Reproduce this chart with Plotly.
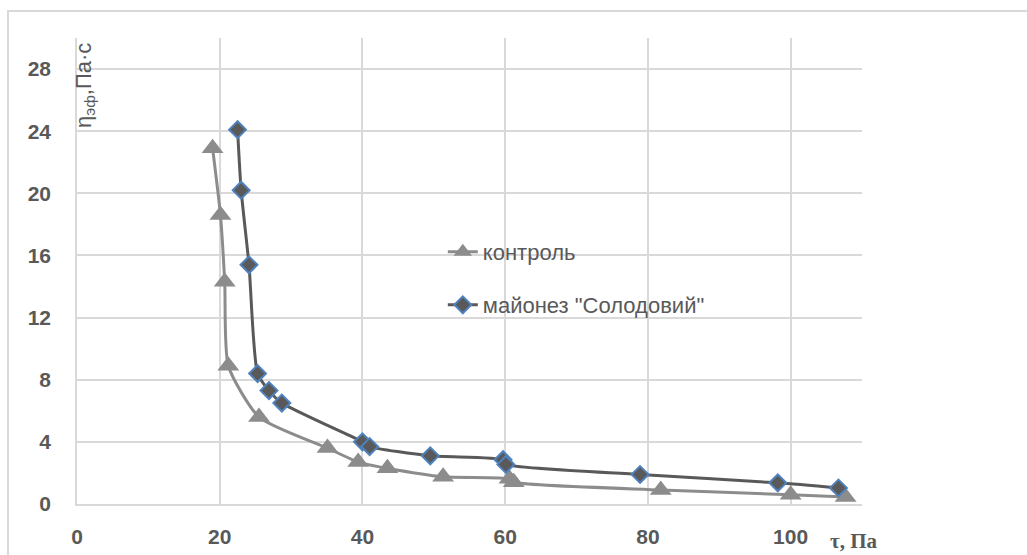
import plotly.graph_objects as go

# Data
control_x = [19.0, 20.1, 20.7, 21.2, 25.5, 35.1, 39.4, 43.5, 51.3, 60.6, 61.2, 81.8, 100.0, 107.7]
control_y = [22.9, 18.6, 14.3, 8.9, 5.6, 3.6, 2.7, 2.3, 1.75, 1.62, 1.4, 0.9, 0.6, 0.45]

mayo_x = [22.5, 23.0, 24.1, 25.3, 26.9, 28.7, 40.0, 41.0, 49.5, 59.7, 60.1, 78.9, 98.2, 106.7]
mayo_y = [24.1, 20.2, 15.4, 8.4, 7.3, 6.5, 4.0, 3.7, 3.1, 2.85, 2.55, 1.9, 1.36, 1.03]

x_ticks = [0, 20, 40, 60, 80, 100]
y_ticks = [0, 4, 8, 12, 16, 20, 24, 28]

name_control = "контроль"
name_mayo = 'майонез "Солодовий"'

GRID = "#d9d9d9"
TXT = "#595959"

fig = go.Figure()
fig.add_trace(go.Scatter(
    x=control_x, y=control_y, name=name_control, mode="lines+markers",
    line=dict(color="#8c8c8c", width=3, shape="spline", smoothing=0.6),
    marker=dict(symbol="triangle-up", size=19, color="#8c8c8c"),
    legend="legend",
))
fig.add_trace(go.Scatter(
    x=mayo_x, y=mayo_y, name=name_mayo, mode="lines+markers",
    line=dict(color="#595959", width=3, shape="spline", smoothing=0.6),
    marker=dict(symbol="diamond", size=13, color="#595959",
                line=dict(color="#4f81bd", width=2)),
    legend="legend2",
))

fig.update_layout(
    width=1027, height=555,
    margin=dict(l=77, r=165, t=38, b=51, autoexpand=False),
    paper_bgcolor="white", plot_bgcolor="white",
    font=dict(family="Liberation Sans, Arial, sans-serif", color=TXT),
    legend=dict(x=0.466, y=0.541, xanchor="left", yanchor="middle",
                bgcolor="rgba(0,0,0,0)", font=dict(size=22, color=TXT)),
    legend2=dict(x=0.466, y=0.427, xanchor="left", yanchor="middle",
                 bgcolor="rgba(0,0,0,0)", font=dict(size=22, color=TXT)),
    showlegend=True,
)

fig.update_xaxes(
    range=[0, 110], tickvals=x_ticks, showgrid=True, gridcolor=GRID, gridwidth=1.5,
    zeroline=False, showline=True, linecolor=GRID, linewidth=1.5, automargin=False,
    tickfont=dict(size=21, color=TXT, weight="bold"), ticks="", ticklabelstandoff=13,
)
fig.update_yaxes(
    range=[0, 30], tickvals=y_ticks, showgrid=True, gridcolor=GRID, gridwidth=1.5,
    zeroline=False, showline=True, linecolor=GRID, linewidth=1.5, automargin=False,
    tickfont=dict(size=21, color=TXT, weight="bold"), ticks="", ticklabelstandoff=20,
)

# Chart border
fig.add_shape(type="rect", xref="paper", yref="paper",
              x0=-0.0879, x1=1.4, y0=-0.3, y1=1.058,
              line=dict(color=GRID, width=2), fillcolor="rgba(0,0,0,0)", layer="below")

# Axis titles
fig.add_annotation(xref="paper", yref="paper", x=0.010, y=0.899,
                   xanchor="center", yanchor="middle", textangle=-90, showarrow=False,
                   text="η<sub>эф</sub>,Па·с",
                   font=dict(size=22, color=TXT, family="Liberation Sans, Arial, sans-serif"))
fig.add_annotation(xref="paper", yref="paper", x=0.99, y=-0.079,
                   xanchor="center", yanchor="middle", showarrow=False,
                   text="<b>τ, Па</b>",
                   font=dict(size=21, color=TXT, family="Liberation Serif, Times New Roman, serif"))

fig.write_html("out.html", config={"displayModeBar": False})
